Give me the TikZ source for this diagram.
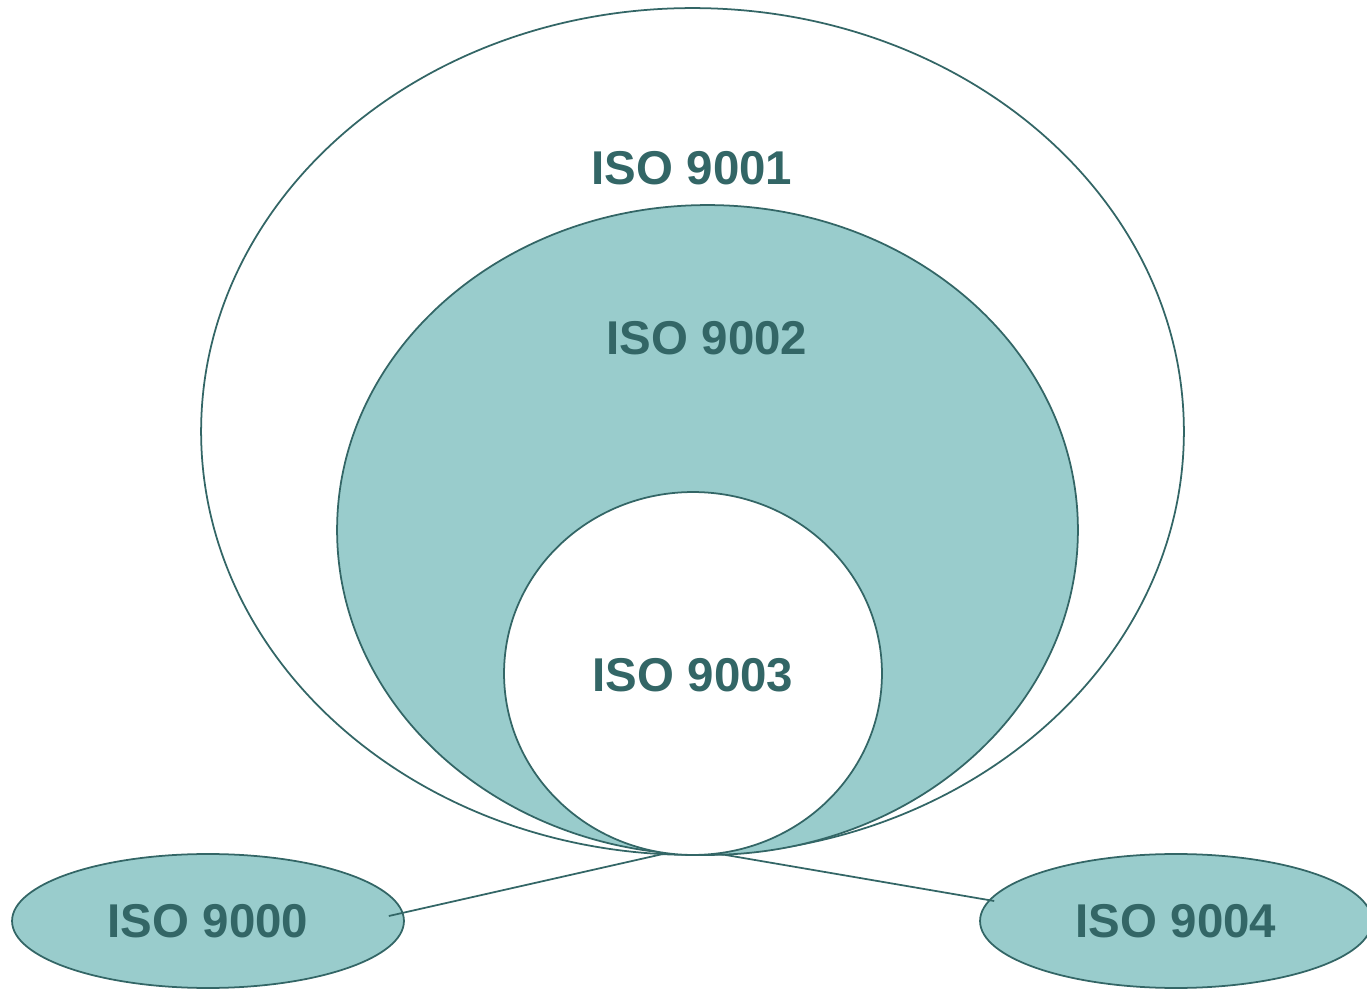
\documentclass[tikz,border=0pt]{standalone}
\usepackage{fontspec}
\setmainfont{Liberation Sans}
\usetikzlibrary{shapes.geometric}
\definecolor{isoline}{HTML}{336666}
\definecolor{isofill}{HTML}{99CCCC}
\tikzset{
	isolabel/.style={text=isoline, font=\fontsize{27}{30}\selectfont\bfseries, anchor=base, inner sep=0pt},
	isobubble/.style={ellipse, draw=isoline, fill=isofill, line width=1pt, minimum width=7.84cm, minimum height=2.68cm, inner sep=0pt, text=isoline, font=\fontsize{27}{30}\selectfont\bfseries},
	rim/.style={draw=isoline, line width=1pt}
}
\begin{document}
\begin{tikzpicture}[x=0.02cm,y=-0.02cm]
		\useasboundingbox (0,0) rectangle (1367,989);
		\draw[rim,fill=white] (692.5,431.5) ellipse [x radius=9.83cm, y radius=8.47cm];
		\draw[rim,fill=isofill] (707.5,530) ellipse [x radius=7.41cm, y radius=6.5cm];
		\draw[rim,fill=white] (693,673.5) ellipse [x radius=3.78cm, y radius=3.63cm];
		\node[isolabel] (iso9001) at (692,185) {ISO 9001};
		\node[isolabel] (iso9002) at (707,355) {ISO 9002};
		\node[isolabel] (iso9003) at (693,692) {ISO 9003};
		\node[isobubble] (iso9000) at (208,921) {ISO 9000};
		\node[isobubble] (iso9004) at (1176,921) {ISO 9004};
		\coordinate (tipL) at (663,854);
		\coordinate (tipR) at (720,854);
		\coordinate (endL) at ([xshift=-0.32cm,yshift=0.1cm]iso9000.east);
		\coordinate (endR) at ([xshift=0.3cm,yshift=0.4cm]iso9004.west);
		\draw[rim] (tipL) -- (endL);
		\draw[rim] (tipR) -- (endR);
	\end{tikzpicture}
\end{document}
